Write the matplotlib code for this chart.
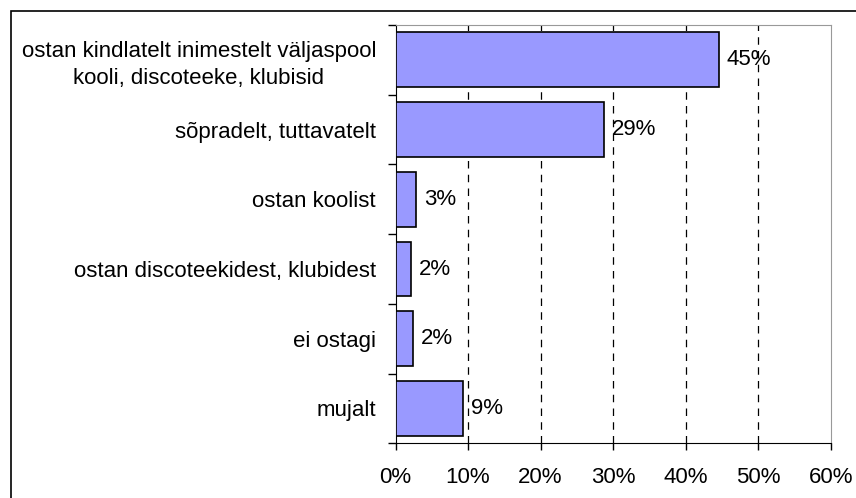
import numpy as np
import matplotlib.pyplot as plt
from matplotlib.patches import Rectangle

categories = ["ostan kindlatelt inimestelt väljaspool\nkooli, discoteeke, klubisid",
              "sõpradelt, tuttavatelt",
              "ostan koolist",
              "ostan discoteekidest, klubidest",
              "ei ostagi",
              "mujalt"]
values = [44.6, 28.7, 2.8, 2.1, 2.4, 9.3]
labels = ["45%", "29%", "3%", "2%", "2%", "9%"]
xticks = [0, 10, 20, 30, 40, 50, 60]

plt.rcParams['font.family'] = ['Liberation Sans', 'DejaVu Sans']
fs = 16

fig = plt.figure(figsize=(8.56, 4.98), dpi=100)
ax = fig.add_axes([395.5 / 856, 1 - 443.3 / 498, (830.7 - 395.5) / 856, (443.3 - 25) / 498])

# outer chart border (right/bottom edges fall off the picture)
fig.patches.append(Rectangle((11 / 856, -0.01), 1.0, 1 - 11 / 498 + 0.01,
                             transform=fig.transFigure, fill=False,
                             edgecolor="black", linewidth=1.2))

y = np.arange(len(categories))
ax.barh(y, values, height=0.787, color="#9999FF", edgecolor="black", linewidth=1.2, zorder=3)
for yi, v, lab in zip(y, values, labels):
    ax.text(v + 1.1, yi, lab, va="center", ha="left", fontsize=fs, zorder=4)

ax.set_xlim(0, 60)
ax.set_ylim(len(categories) - 0.5, -0.5)
ax.set_xticks(xticks)
ax.set_xticklabels(["{}%".format(t) for t in xticks], fontsize=fs)
ax.set_yticks(y)
ax.set_yticklabels(categories, fontsize=fs, multialignment="center", linespacing=1.35)
ax.tick_params(axis="y", length=0, pad=14)
ax.tick_params(axis="x", length=5, direction="out", width=1, pad=12)

# category boundary ticks on the left axis
ax.set_yticks(np.arange(-0.5, len(categories), 1), minor=True)
ax.tick_params(axis="y", which="minor", length=6, width=1)

for t in xticks[1:-1]:
    ax.axvline(t, color="black", linestyle=(0, (6, 5)), linewidth=0.9, zorder=1)

for side in ["top", "right"]:
    ax.spines[side].set_color("#999999")
ax.spines["left"].set_color("black")
ax.spines["bottom"].set_color("black")

fig.savefig("out.png", dpi=100)
